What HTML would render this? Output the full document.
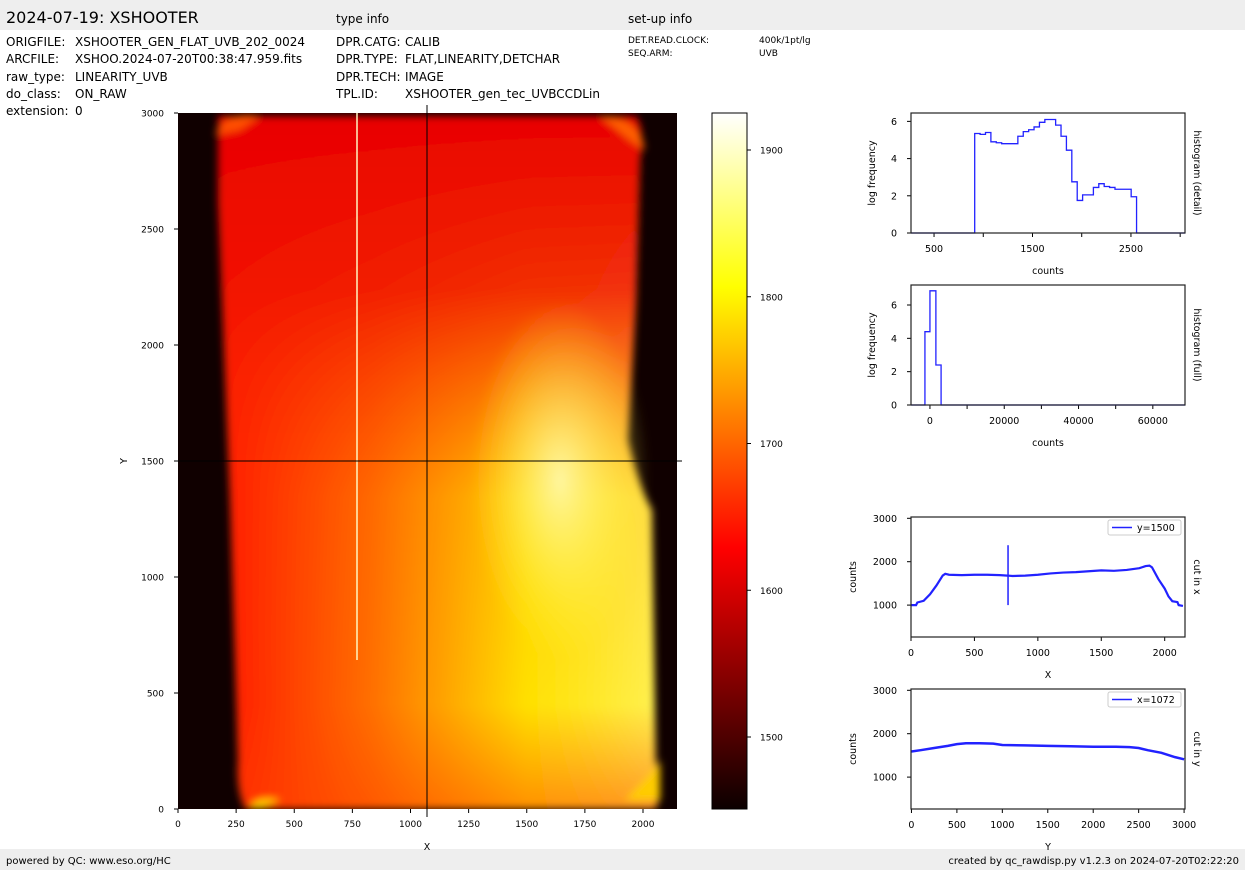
<!DOCTYPE html>
<html><head><meta charset="utf-8"><style>
html,body{margin:0;padding:0;background:#fff;}
svg{display:block;font-family:"DejaVu Sans","Liberation Sans",sans-serif;}
.hd{font-size:12px;fill:#000;}
.tk{font-size:9.5px;fill:#000;}
.al{font-size:9.5px;fill:#000;}
</style></head><body>
<svg id="root" width="1245" height="870" viewBox="0 0 1245 870" xmlns="http://www.w3.org/2000/svg">
<defs>
<linearGradient id="hot" x1="0" y1="1" x2="0" y2="0">
<stop offset="0" stop-color="#0b0000"/><stop offset="0.375" stop-color="#ff0000"/><stop offset="0.75" stop-color="#ffff00"/><stop offset="1" stop-color="#ffffff"/>
</linearGradient>
<linearGradient id="flatH" x1="0" y1="0" x2="1" y2="0">
<stop offset="0" stop-color="#ff1800"/><stop offset="0.35" stop-color="#ff7000"/><stop offset="0.7" stop-color="#ffe000"/><stop offset="1" stop-color="#fff050"/>
</linearGradient>
<linearGradient id="flatV" x1="0" y1="0" x2="0" y2="1">
<stop offset="0" stop-color="#e80000" stop-opacity="1"/><stop offset="0.25" stop-color="#f01000" stop-opacity="0.85"/><stop offset="0.55" stop-color="#ff3000" stop-opacity="0.1"/><stop offset="0.85" stop-color="#ff4000" stop-opacity="0"/><stop offset="1" stop-color="#ff4000" stop-opacity="0.5"/>
</linearGradient>
<radialGradient id="hotspot" cx="0.5" cy="0.5" r="0.5">
<stop offset="0" stop-color="#fffbb0" stop-opacity="0.9"/><stop offset="1" stop-color="#ffff40" stop-opacity="0"/>
</radialGradient>
<filter id="blur"><feGaussianBlur stdDeviation="4"/></filter>
<clipPath id="imgclip"><rect x="178" y="113" width="499" height="696"/></clipPath>
</defs>

<rect x="0" y="0" width="1245" height="30" fill="#eeeeee"/>
<rect x="0" y="849" width="1245" height="21" fill="#eeeeee"/>
<text x="6" y="23" style="font-size:16px">2024-07-19: XSHOOTER</text>
<text x="336" y="23" class="hd">type info</text>
<text x="628" y="23" class="hd">set-up info</text>
<g class="hd">
<text x="6" y="46">ORIGFILE:</text><text x="75" y="46">XSHOOTER_GEN_FLAT_UVB_202_0024</text>
<text x="6" y="63">ARCFILE:</text><text x="75" y="63">XSHOO.2024-07-20T00:38:47.959.fits</text>
<text x="6" y="81">raw_type:</text><text x="75" y="81">LINEARITY_UVB</text>
<text x="6" y="98">do_class:</text><text x="75" y="98">ON_RAW</text>
<text x="6" y="115">extension:</text><text x="75" y="115">0</text>
</g>
<g class="hd">
<text x="336" y="46">DPR.CATG:</text><text x="405" y="46">CALIB</text>
<text x="336" y="63">DPR.TYPE:</text><text x="405" y="63">FLAT,LINEARITY,DETCHAR</text>
<text x="336" y="81">DPR.TECH:</text><text x="405" y="81">IMAGE</text>
<text x="336" y="98">TPL.ID:</text><text x="405" y="98">XSHOOTER_gen_tec_UVBCCDLin</text>
</g>
<g style="font-size:9px">
<text x="628" y="43">DET.READ.CLOCK:</text><text x="759" y="43">400k/1pt/lg</text>
<text x="628" y="56">SEQ.ARM:</text><text x="759" y="56">UVB</text>
</g>
<text x="6" y="864" style="font-size:10px">powered by QC: www.eso.org/HC</text>
<text x="1239" y="864" text-anchor="end" style="font-size:10px">created by qc_rawdisp.py v1.2.3 on 2024-07-20T02:22:20</text>

<g clip-path="url(#imgclip)">
<rect x="178" y="113" width="499" height="696" fill="#100000"/>
<g filter="url(#blur)">
<path d="M218,116 L636,116 Q645,130 640,160 L636,300 L628,440 Q640,490 652,510 L656,780 Q662,800 655,809 L245,809 Q236,790 238,760 L230,500 L218,200 Z" fill="url(#flatH)"/>
<path d="M218,116 L636,116 Q645,130 640,160 L636,300 L628,440 Q640,490 652,510 L656,780 Q662,800 655,809 L245,809 Q236,790 238,760 L230,500 L218,200 Z" fill="url(#flatV)"/>
<ellipse cx="560" cy="480" rx="90" ry="180" fill="url(#hotspot)"/>
<path d="M215,135 Q225,110 260,116 L240,130 Z" fill="#ff5000"/>
<path d="M600,116 Q640,118 645,150 L630,140 Z" fill="#ff6000"/>
<path d="M250,808 Q255,795 280,800 L260,809 Z" fill="#ffcc00"/>
<path d="M625,800 Q655,770 660,760 L660,800 Z" fill="#ffcc00"/>
</g>
<line x1="357" y1="113" x2="357" y2="660" stroke="#fff6c0" stroke-width="1.5"/>
</g>
<line x1="427" y1="105" x2="427" y2="817" stroke="#000" stroke-width="1"/>
<line x1="178" y1="461" x2="682" y2="461" stroke="#000" stroke-width="1"/>
<g id="imgaxes"></g>

<rect x="712" y="113" width="35" height="696" fill="url(#hot)"/>
<g id="cbaxes"></g>

<g id="histd"></g>
<g id="histf"></g>
<g id="cutx"></g>
<g id="cuty"></g>
</svg>
<script>
const histDetailStart = 913;
const histDetailBinWidth = 54.8;
const histDetailValues = [5.35,5.3,5.4,4.9,4.85,4.8,4.8,4.8,5.2,5.45,5.55,5.7,5.95,6.1,6.1,5.8,5.2,4.45,2.75,1.75,2.05,2.05,2.45,2.65,2.5,2.45,2.35,2.35,2.35,1.95];
const histFullEdges = [-1350,0,1600,3000];
const histFullValues = [4.4,6.85,2.4];
const cutXPos = [0,40,50,100,150,200,250,270,300,400,500,600,700,760,800,900,1000,1100,1200,1300,1400,1500,1600,1700,1800,1850,1880,1900,1950,2000,2030,2060,2100,2110,2144];
const cutXVal = [1000,1000,1060,1100,1250,1450,1680,1720,1700,1690,1700,1700,1690,1680,1670,1680,1700,1730,1750,1760,1780,1800,1790,1810,1850,1900,1910,1870,1600,1380,1200,1090,1070,1000,980];
const cutXSpike = {x:765, lo:1000, hi:2380};
const cutYPos = [0,100,250,400,500,600,750,900,1000,1250,1500,1750,2000,2250,2400,2500,2600,2750,2900,3000];
const cutYVal = [1590,1620,1670,1720,1760,1780,1780,1770,1740,1730,1720,1710,1700,1700,1690,1670,1620,1560,1460,1410];
const imgXTicks = [0,250,500,750,1000,1250,1500,1750,2000];
const imgYTicks = [0,500,1000,1500,2000,2500,3000];
const cbTicks = [1500,1600,1700,1800,1900];

const NS="http://www.w3.org/2000/svg";
function mk(parent,tag,attrs,text){const e=document.createElementNS(NS,tag);for(const k in attrs)e.setAttribute(k,attrs[k]);if(text!==undefined)e.textContent=text;parent.appendChild(e);return e;}
function lin(d0,d1,r0,r1){return v=>r0+(v-d0)*(r1-r0)/(d1-d0);}

(function(){
 const g=document.getElementById('imgaxes');
 const sx=lin(0,2000,178,643), sy=lin(0,3000,809,113);
 imgXTicks.forEach(t=>{const x=sx(t);
  const l=mk(g,'line',{x1:x,y1:809,x2:x,y2:813,stroke:'#000'});
  
  
  const tx=mk(g,'text',{x:x,y:827,'text-anchor':'middle',class:'tk',style:'font-size:9px'},String(t));
  
  });
 imgYTicks.forEach(t=>{const y=sy(t);
  const l=mk(g,'line',{x1:174,y1:y,x2:178,y2:y,stroke:'#000'});
  
  
  const tx=mk(g,'text',{x:164,y:y+3.5,'text-anchor':'end',class:'tk',style:'font-size:9px'},String(t));
  
  });
 const xl=mk(g,'text',{x:427,y:850,'text-anchor':'middle',class:'al'},'X');
 
 
 const yl=mk(g,'text',{x:127,y:461,'text-anchor':'middle',class:'al',transform:'rotate(-90 127 461)'},'Y');
 
 
})();
(function(){
 const g=document.getElementById('cbaxes');
 const sy=lin(1500,1900,737,150);
 mk(g,'rect',{x:712,y:113,width:35,height:696,fill:'none',stroke:'#000','stroke-width':1});
 cbTicks.forEach(t=>{const y=sy(t);
  mk(g,'line',{x1:747,y1:y,x2:751,y2:y,stroke:'#000'});
  const tx=mk(g,'text',{x:760,y:y+3.5,class:'tk',style:'font-size:9px'},String(t));
  
  });
})();

function panel(id,name,box,xd,yd,xticks,yticks,xlabel,ylabel,rlabel,xMinor,yOff){
 const g=document.getElementById(id);
 
 
 const sx=lin(xd[0],xd[1],box.x0,box.x1), sy=lin(yd[0],yd[1],box.y1,box.y0);
 xticks.forEach(t=>{const x=sx(t);mk(g,'line',{x1:x,y1:box.y1,x2:x,y2:box.y1+4,stroke:'#000'});
  const tx=mk(g,'text',{x:x,y:box.y1+19,'text-anchor':'middle',class:'tk'},String(t));
  
  });
 (xMinor||[]).forEach(t=>{const x=sx(t);mk(g,'line',{x1:x,y1:box.y1,x2:x,y2:box.y1+4,stroke:'#000'});});
 yticks.forEach(t=>{const y=sy(t);mk(g,'line',{x1:box.x0-4,y1:y,x2:box.x0,y2:y,stroke:'#000'});
  const tx=mk(g,'text',{x:box.x0-14,y:y+3.5,'text-anchor':'end',class:'tk'},String(t));
  
  });
 const xl=mk(g,'text',{x:(box.x0+box.x1)/2,y:box.y1+41,'text-anchor':'middle',class:'al'},xlabel);
 
 
 const cy=(box.y0+box.y1)/2;
 const lx=box.x0-yOff;
 const yl=mk(g,'text',{x:lx,y:cy,'text-anchor':'middle',class:'al',transform:`rotate(-90 ${lx} ${cy})`},ylabel);
 
 
 const rl=mk(g,'text',{x:box.x1+9,y:cy,'text-anchor':'middle',class:'al',transform:`rotate(90 ${box.x1+9} ${cy})`},rlabel);
 
 
 return {g,sx,sy,box};
}
function frame(p){mk(p.g,'rect',{x:p.box.x0,y:p.box.y0,width:p.box.x1-p.box.x0,height:p.box.y1-p.box.y0,fill:'none',stroke:'#222','stroke-width':1.2});}
function stepPath(p,edges,vals){
 let d=`M${p.box.x0},${p.sy(0)} L${p.sx(edges[0])},${p.sy(0)}`;
 vals.forEach((v,i)=>{d+=` L${p.sx(edges[i])},${p.sy(v)} L${p.sx(edges[i+1])},${p.sy(v)}`;});
 d+=` L${p.sx(edges[edges.length-1])},${p.sy(0)} L${p.box.x1},${p.sy(0)}`;
 const path=mk(p.g,'path',{d,fill:'none',stroke:'#2222ff','stroke-width':1.3});
 
 
}
(function(){
 const p=panel('histd','histogram-detail',{x0:911,x1:1185,y0:113,y1:233},[266,3049],[0,6.45],[500,1500,2500],[0,2,4,6],'counts','log frequency','histogram (detail)',[1000,2000,3000],36);
 const edges=histDetailValues.map((v,i)=>histDetailStart+i*histDetailBinWidth);edges.push(histDetailStart+histDetailValues.length*histDetailBinWidth);
 stepPath(p,edges,histDetailValues);frame(p);
})();
(function(){
 const p=panel('histf','histogram-full',{x0:911,x1:1185,y0:285,y1:405},[-5100,68660],[0,7.2],[0,20000,40000,60000],[0,2,4,6],'counts','log frequency','histogram (full)',[10000,30000,50000],36);
 stepPath(p,histFullEdges,histFullValues);frame(p);
})();
function legend(p,label){
 const x=p.box.x1-77,y=p.box.y0+3;
 const r=mk(p.g,'rect',{x:x,y:y,width:73,height:15,fill:'#fff',stroke:'#ccc',rx:2});
 
 
 mk(p.g,'line',{x1:x+4,y1:y+7.5,x2:x+24,y2:y+7.5,stroke:'#2222ff','stroke-width':1.5});
 const t=mk(p.g,'text',{x:x+29,y:y+11,class:'tk'},label);
 
 
}
(function(){
 const p=panel('cutx','cut-in-x',{x0:911,x1:1185,y0:517,y1:637},[0,2160],[265,3030],[0,500,1000,1500,2000],[1000,2000,3000],'X','counts','cut in x',[],55);
 const pts=cutXPos.map((x,i)=>`${p.sx(x)},${p.sy(cutXVal[i])}`).join(' ');
 const l=mk(p.g,'polyline',{points:pts,fill:'none',stroke:'#2222ff','stroke-width':2.2});
 
 
 const s=mk(p.g,'line',{x1:p.sx(cutXSpike.x),y1:p.sy(cutXSpike.lo),x2:p.sx(cutXSpike.x),y2:p.sy(cutXSpike.hi),stroke:'#2222ff','stroke-width':1.5});
 
 
 frame(p);legend(p,'y=1500');
})();
(function(){
 const p=panel('cuty','cut-in-y',{x0:911,x1:1185,y0:689,y1:809},[-5,3010],[265,3030],[0,500,1000,1500,2000,2500,3000],[1000,2000,3000],'Y','counts','cut in y',[],55);
 const pts=cutYPos.map((x,i)=>`${p.sx(x)},${p.sy(cutYVal[i])}`).join(' ');
 const l=mk(p.g,'polyline',{points:pts,fill:'none',stroke:'#2222ff','stroke-width':2.5});
 
 
 frame(p);legend(p,'x=1072');
})();
</script>
</body></html>
